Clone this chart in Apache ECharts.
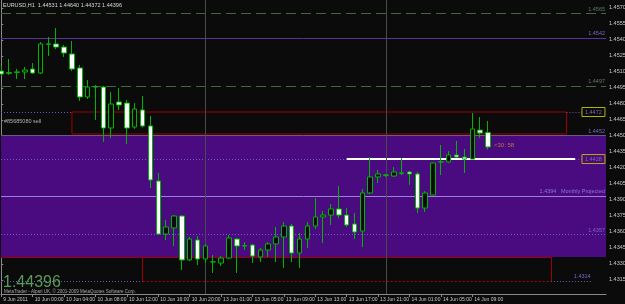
<!DOCTYPE html>
<html><head><meta charset="utf-8">
<script src="https://cdn.jsdelivr.net/npm/echarts@6/dist/echarts.min.js"></script>
<style>html,body{margin:0;padding:0;background:#0b0b0b}#c{width:625px;height:304px}</style>
</head><body><div id="c"></div>
<script>
const timeLabels = ["9 Jun 2011","10 Jun 00:00","10 Jun 04:00","10 Jun 08:00","10 Jun 12:00","10 Jun 16:00","10 Jun 20:00","13 Jun 01:00","13 Jun 05:00","13 Jun 09:00","13 Jun 13:00","13 Jun 17:00","13 Jun 21:00","14 Jun 01:00","14 Jun 05:00","14 Jun 09:00"];
const labelBars = [0,4,8,12,16,20,24,28,32,36,40,44,48,52,56,60];
const priceTicks = [1.4300,1.4315,1.4330,1.4345,1.4360,1.4375,1.4390,1.4405,1.4420,1.4435,1.4450,1.4465,1.4480,1.4495,1.4510,1.4525,1.4540,1.4555,1.4570];

const opens  = [1.45108,1.45092,1.45099,1.45099,1.45127,1.45090,1.45362,1.45362,1.45333,1.45268,1.45137,1.44865,1.44960,1.44958,1.44574,1.44818,1.44808,1.44583,1.44743,1.44593,1.44077,1.43580,1.43637,1.43749,1.43337,1.43524,1.43346,1.43318,1.43308,1.43355,1.43533,1.43470,1.43477,1.43365,1.43430,1.43487,1.43552,1.43655,1.43402,1.43533,1.43655,1.43740,1.43758,1.43815,1.43758,1.43674,1.43608,1.43965,1.44115,1.44134,1.44124,1.44153,1.44162,1.44143,1.43824,1.43946,1.44255,1.44255,1.44321,1.44302,1.44283,1.44555,1.44531];
const closes = [1.45080,1.45088,1.45097,1.45118,1.45090,1.45362,1.45360,1.45333,1.45277,1.45127,1.44865,1.44958,1.44958,1.44574,1.44799,1.44790,1.44574,1.44752,1.44593,1.44087,1.43580,1.43646,1.43749,1.43337,1.43533,1.43346,1.43468,1.43320,1.43355,1.43543,1.43468,1.43468,1.43374,1.43430,1.43487,1.43552,1.43655,1.43402,1.43533,1.43655,1.43740,1.43758,1.43815,1.43758,1.43665,1.43599,1.43965,1.44115,1.44143,1.44132,1.44162,1.44150,1.44143,1.43824,1.43965,1.44246,1.44257,1.44321,1.44302,1.44283,1.44565,1.44527,1.44396];
const lows   = [1.45062,1.45072,1.45033,1.45033,1.45080,1.45080,1.45249,1.45315,1.45240,1.45108,1.44827,1.44846,1.44649,1.44443,1.44480,1.44743,1.44424,1.44565,1.44580,1.44012,1.43571,1.43524,1.43468,1.43243,1.43327,1.43290,1.43308,1.43215,1.43280,1.43346,1.43215,1.43430,1.43308,1.43318,1.43365,1.43318,1.43262,1.43318,1.43262,1.43449,1.43627,1.43496,1.43665,1.43730,1.43646,1.43533,1.43458,1.43955,1.44058,1.44115,1.44115,1.44134,1.44040,1.43777,1.43787,1.43946,1.44134,1.44246,1.44293,1.44152,1.44283,1.44480,1.44372];
const highs  = [1.45155,1.45221,1.45128,1.45146,1.45183,1.45380,1.45427,1.45512,1.45352,1.45390,1.45165,1.45024,1.44977,1.44968,1.44912,1.44949,1.44837,1.44808,1.44874,1.44687,1.44152,1.43712,1.43758,1.43758,1.43552,1.43562,1.43487,1.43383,1.43374,1.43571,1.43543,1.43505,1.43487,1.43449,1.43505,1.43646,1.43693,1.43674,1.43590,1.43693,1.43918,1.43796,1.43862,1.44030,1.43824,1.43777,1.44002,1.44302,1.44180,1.44143,1.44208,1.44292,1.44171,1.44162,1.43983,1.44250,1.44415,1.44358,1.44452,1.44377,1.44715,1.44677,1.44640];

const lastPrice = 1.44396;
const headerText = "EURUSD,H1  1.44531 1.44640 1.44372 1.44396";
// annotation levels
const greenLevels = [1.45652, 1.44968];
const greenLabels = ["1.4565", "1.4497"];
const purpleLine = 1.45418, purpleLineLabel = "1.4542";
const redBoxTop = 1.44724, redBoxBottom = 1.44518;
const zoneTop = 1.44508, zoneBottom = 1.43365;
const zoneTopLabel = "1.4452";
const whiteLevel = 1.44283, whiteLabel = "1.4428";
const yellowLabel1 = "1.4472";
const monthlyLevel = 1.43937, monthlyLabel = "1.4394   Monthly Projected";
const dotLevel = 1.43576, dotLabel = "1.4357";
const lowBoxBottom = 1.43140, lowBoxLabel = "1.4314";

const chart = echarts.init(document.getElementById('c'), null, {renderer:'canvas'});
const XMIN = -0.0382, XMAX = 77.032;
const candles = opens.map((o, i) => [i, o, closes[i], lows[i], highs[i]]);

const F = 'Liberation Sans';
function seg(x1, x2, p, style, label) {
  return [{coord:[x1, p], lineStyle: style, label: label || {show:false}}, {coord:[x2, p]}];
}
function vseg(x, p1, p2, style) {
  return [{coord:[x, p1], lineStyle: style, label:{show:false}}, {coord:[x, p2]}];
}
const lblEnd = (text, color) => ({show:true, position:'insideEndTop', formatter:text, color:color, fontSize:5.5, fontFamily:F, distance:[1,1]});
const yellowBox = (text) => ({show:true, position:'end', formatter:text, color:'#7a6ab0', fontSize:5.5, fontFamily:F, borderColor:'#b8b000', borderWidth:1, padding:[2,2,1,3], distance:0, width:18});

const greenStyle = {color:'#3d6a3d', type:[10,5], width:1};
const dotPurple = {color:'#6a5ac8', type:[1,2], width:1};
const redSolid = {color:'#a00000', type:'solid', width:1};
const redDot = {color:'#c00000', type:[2,2], width:1};

const lines = [
  seg(XMIN, XMAX, greenLevels[0], greenStyle, lblEnd(greenLabels[0], '#5e7e5e')),
  seg(XMIN, XMAX, greenLevels[1], greenStyle, lblEnd(greenLabels[1], '#5e7e5e')),
  seg(XMIN, XMAX, purpleLine, {color:'#55349c', width:1, type:'solid'}, lblEnd(purpleLineLabel, '#7a68c8')),
  seg(XMIN, 9, redBoxTop, dotPurple),
  seg(72, 73.97, redBoxTop, dotPurple, yellowBox(yellowLabel1)),
  seg(XMIN, XMAX, zoneTop, {color:'#6a5a8a', width:1, type:'solid'}, lblEnd(zoneTopLabel, '#7a68c8')),
  seg(XMIN, 44, whiteLevel, dotPurple),
  seg(44, 73.1, whiteLevel, {color:'#ffffff', width:2, type:'solid'}),
  seg(73.1, 73.97, whiteLevel, dotPurple, yellowBox(whiteLabel)),
  seg(XMIN, XMAX, monthlyLevel, {color:'#9a80d8', width:1, type:'solid'}, lblEnd(monthlyLabel, '#8a78d0')),
  seg(XMIN, XMAX, dotLevel, dotPurple, lblEnd(dotLabel, '#7a68c8')),
  seg(XMIN, 70, zoneBottom, redSolid),
  seg(XMIN, 18, lowBoxBottom, dotPurple),
  seg(18, 70, lowBoxBottom, redDot),
  seg(70, 75.2, lowBoxBottom, dotPurple, lblEnd(lowBoxLabel, '#7a68c8')),
  vseg(18, zoneBottom, lowBoxBottom, redSolid),
  vseg(70, zoneBottom, lowBoxBottom, redSolid),
  [{xAxis:26, lineStyle:{color:'#4a4a4a', width:1, type:'solid'}, label:{show:false}}],
  [{xAxis:49, lineStyle:{color:'#4a4a4a', width:1, type:'solid'}, label:{show:false}}]
].map(d => d.length === 1 ? d[0] : d);

const option = {
  backgroundColor:'#0b0b0b',
  animation:false,
  textStyle:{fontFamily:F},
  grid:{left:1, right:19, top:0, bottom:10, containLabel:false, outerBoundsMode:'none'},
  xAxis:{type:'value', min:XMIN, max:XMAX,
    axisLine:{show:true, lineStyle:{color:'#8a8a8a', width:1}},
    axisTick:{show:true, customValues:labelBars, length:3, lineStyle:{color:'#8a8a8a'}},
    axisLabel:{show:true, customValues:labelBars, formatter:v => timeLabels[labelBars.indexOf(Math.round(v))] || '', color:'#c8c8c8', fontSize:5, align:'left', margin:3, padding:[0,0,0,2]},
    splitLine:{show:false}},
  yAxis:[{type:'value', position:'right', min:1.430178, max:1.457741, scale:true,
    axisLine:{show:true, lineStyle:{color:'#8a8a8a', width:1}},
    axisTick:{show:true, customValues:priceTicks, length:2, lineStyle:{color:'#8a8a8a'}},
    axisLabel:{show:true, customValues:priceTicks, formatter:v => v.toFixed(5), color:'#c8c8c8', fontSize:5.5, margin:3},
    splitLine:{show:false}},
    {type:'value', position:'left', min:1.430178, max:1.457741, axisLine:{show:true, lineStyle:{color:'#8a8a8a'}}, axisTick:{show:false}, axisLabel:{show:false}, splitLine:{show:false}}],
  series:[
    {type:'line', data:[], z:1, silent:true,
      markArea:{silent:true, data:[
        [{coord:[XMIN, zoneTop], itemStyle:{color:'#4a0a80'}}, {coord:[XMAX, zoneBottom]}],
        [{coord:[9, redBoxTop], itemStyle:{color:'rgba(0,0,0,0)', borderColor:'#a00000', borderWidth:1}}, {coord:[72, redBoxBottom]}]
      ]}},
    {type:'line', data:[], z:2, silent:true,
      markLine:{silent:true, symbol:['none','none'], animation:false, data:lines}},
    {type:'line', data:[], z:6, silent:true,
      markLine:{silent:true, symbol:['none','none'], animation:false,
        data:[seg(75, XMAX, lastPrice, {opacity:0}, {show:true, position:'end', formatter:lastPrice.toFixed(5), backgroundColor:'#ffffff', color:'#000000', fontSize:5.5, fontFamily:F, padding:[1,3,1,2], distance:1})]}},
    {type:'candlestick', z:5, clip:false, barWidth:5, data:candles, encode:{x:0, y:[1,2,3,4]},
      itemStyle:{color:'#0b0b0b', color0:'#ffffff', borderColor:'#00b400', borderColor0:'#00b400', borderWidth:1}}
  ],
  graphic:[
    {type:'text', left:3, top:2, z:10, style:{text:headerText, fill:'#d8d8d8', font:'5.5px Liberation Sans'}},
    {type:'text', left:4, top:118, z:10, style:{text:'#85685080 sell', fill:'#b0b0b0', font:'5.5px Liberation Sans'}},
    {type:'text', left:494, top:142, z:10, style:{text:'<30: 58', fill:'#b87a38', font:'6px Liberation Sans'}},
    {type:'text', left:3, top:275, z:10, style:{text:'1.44396', fill:'#5c9a5c', font:'16px Liberation Sans'}},
    {type:'text', left:4, top:289, z:10, style:{text:'MetaTrader - Alpari UK, © 2001-2009 MetaQuotes Software Corp.', fill:'#a8a8a8', font:'4.5px Liberation Sans'}}
  ]
};
chart.setOption(option);
</script>
</body></html>
